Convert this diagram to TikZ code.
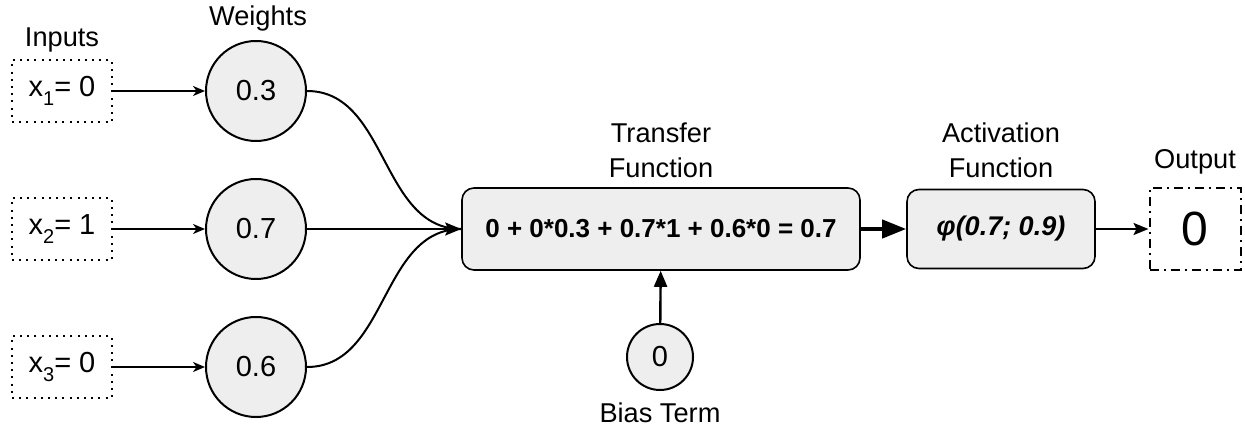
\documentclass[tikz,border=0pt]{standalone}
\usepackage{fontspec}
\setmainfont{Liberation Sans}
\usetikzlibrary{arrows.meta}
\definecolor{cellgray}{HTML}{EEEEEE}
\newcommand{\lowsub}[1]{\raisebox{-0.55ex}{\fontsize{10}{10}\selectfont #1}}

\begin{document}
\begin{tikzpicture}[x=0.5pt,y=0.5pt,
  inbox/.style={draw, line width=1pt, dash pattern=on 1pt off 2.6pt, minimum width=50pt, minimum height=31pt, inner sep=0pt, font=\fontsize{14.5}{16}\selectfont},
  wcirc/.style={draw, circle, fill=cellgray, line width=1pt, minimum size=50pt, inner sep=0pt, font=\fontsize{14.5}{16}\selectfont},
  fbox/.style={draw, rounded corners=6pt, fill=cellgray, line width=0.8pt, inner sep=0pt},
  lbl/.style={font=\fontsize{13.6}{17.5}\selectfont, align=center}]
\useasboundingbox (0,0) rectangle (1245,433);
\node[inbox] (x1) at (62,342) {x\lowsub{1}= 0};
\node[inbox] (x2) at (62,204) {x\lowsub{2}= 1};
\node[inbox] (x3) at (62,66) {x\lowsub{3}= 0};
\node[lbl] (inlbl) at (62,393) {Inputs};
\node[wcirc] (w1) at (256,342) {0.3};
\node[wcirc] (w2) at (256,204) {0.7};
\node[wcirc] (w3) at (256,66) {0.6};
\node[lbl] (wlbl) at (258,415) {Weights};
\node[fbox, minimum width=199pt, minimum height=41pt, font=\fontsize{13}{15}\selectfont\bfseries] (tf) at (661,204) {0 + 0*0.3 + 0.7*1 + 0.6*0 = 0.7};
\node[lbl] (tflbl) at (661,283) {Transfer\\Function};
\node[fbox, minimum width=94pt, minimum height=39.5pt, font=\fontsize{13.5}{15}\selectfont\bfseries\itshape] (af) at (1001,204) {φ(0.7; 0.9)};
\node[lbl] (aflbl) at (1001,283) {Activation\\Function};
\node[draw, line width=1pt, dash pattern=on 4.5pt off 2.5pt on 1pt off 2.5pt, minimum width=45.5pt, minimum height=41pt, inner sep=0pt, font=\fontsize{24}{26}\selectfont] (out) at (1195,204) {0};
\node[lbl] (outlbl) at (1195,271) {Output};
\node[draw, circle, fill=cellgray, line width=1pt, minimum size=33pt, inner sep=0pt, font=\fontsize{14.5}{16}\selectfont] (bias) at (660,76) {0};
\node[lbl] (blbl) at (660,20) {Bias Term};
\draw[line width=1pt, -{Stealth[length=6pt,width=5pt,inset=1.8pt]}] (x1) -- (w1);
\draw[line width=1pt, -{Stealth[length=6pt,width=5pt,inset=1.8pt]}] (x2) -- (w2);
\draw[line width=1pt, -{Stealth[length=6pt,width=5pt,inset=1.8pt]}] (x3) -- (w3);
\draw[line width=1pt] (w1.east) to[out=0,in=180] (tf.west);
\draw[line width=1pt] (w3.east) to[out=0,in=180] (tf.west);
\draw[line width=1pt, -{Stealth[length=8pt,width=6.5pt,inset=1.5pt]}] (w2) -- (tf);
\draw[line width=2pt, -{Triangle[length=12pt,width=9pt]}] (tf) -- (af);
\draw[line width=1.2pt, -{Stealth[length=7.5pt,width=6pt,inset=1.5pt]}] (af) -- (out);
\draw[line width=1.2pt, -{Triangle[length=8pt,width=6.5pt]}] (bias) -- (tf);
\end{tikzpicture}
\end{document}
